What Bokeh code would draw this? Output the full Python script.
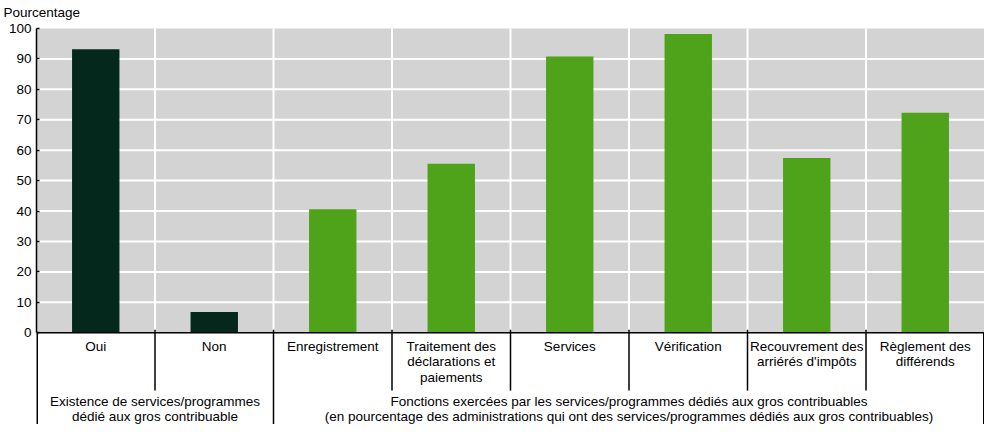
from bokeh.plotting import figure
from bokeh.models import Range1d, FixedTicker, ColumnDataSource
from bokeh.core.properties import value
from bokeh.embed import file_html
from bokeh.resources import INLINE

# ---- data ----
categories = ["Oui", "Non", "Enregistrement",
              "Traitement des\ndéclarations et\npaiements",
              "Services", "Vérification",
              "Recouvrement des\narriérés d'impôts",
              "Règlement des\ndifférends"]
values = [93.2, 6.8, 40.6, 55.5, 90.8, 98.2, 57.4, 72.3]
groups = ["Existence de services/programmes\ndédié aux gros contribuable",
          "Fonctions exercées par les services/programmes dédiés aux gros contribuables\n"
          "(en pourcentage des administrations qui ont des services/programmes dédiés aux gros contribuables)"]
group_sizes = [2, 6]
y_ticks = list(range(0, 101, 10))
y_title = "Pourcentage"

# ---- style ----
FONT = "Liberation Sans"
FS = "13.5px"
DARK = "#04291c"
LIGHT = "#4ea31a"
GRAY = "#d3d3d3"
group_colors = [DARK, LIGHT]

W, H = 984, 424
LEFT = 36
TOP = 20
n = len(categories)

# figure-pixel -> data conversion (0 at y 332, 100 at y 27)
PX_PER_UNIT = 3.05
ZERO_Y = 332
def py(fig_y):
    return (ZERO_Y - fig_y) / PX_PER_UNIT

y_top = py(TOP)
y_bot = py(H)

p = figure(width=W, height=H, output_backend="svg", toolbar_location=None,
           x_range=Range1d(0, n), y_range=Range1d(y_bot, y_top),
           x_axis_location=None, y_axis_location="left",
           min_border_left=LEFT, min_border_right=0,
           min_border_top=TOP, min_border_bottom=0)
p.outline_line_color = None
p.xgrid.visible = False
p.ygrid.visible = False
p.background_fill_color = "white"
p.border_fill_color = "white"

# y-axis title as a left-aligned plot title
p.title.text = y_title
p.title.align = "left"
p.title.offset = -(LEFT - 3)
p.title.standoff = 4
p.title.text_font = FONT
p.title.text_font_size = FS
p.title.text_font_style = "normal"
p.title.text_color = "black"

ax = p.yaxis[0]
ax.bounds = (0, 100)
ax.ticker = FixedTicker(ticks=y_ticks)
ax.axis_line_color = "black"
ax.axis_line_width = 1.5
ax.major_tick_in = 3
ax.major_tick_out = 0
ax.major_tick_line_color = "black"
ax.major_tick_line_width = 1.5
ax.minor_tick_line_color = None
ax.major_label_text_font = FONT
ax.major_label_text_font_size = FS
ax.major_label_text_color = "black"
ax.major_label_standoff = 5

# gray plot background
p.quad(left=[0], right=[n], bottom=[0], top=[100], fill_color=GRAY, line_color=None)
# white horizontal gridlines
hy = [t for t in y_ticks if 0 < t < 100]
p.segment(x0=[0] * len(hy), x1=[n] * len(hy), y0=hy, y1=hy, line_color="white", line_width=2)
# white vertical separators inside plot
vx = list(range(1, n))
p.segment(x0=vx, x1=vx, y0=[0] * len(vx), y1=[100] * len(vx), line_color="white", line_width=2)

# bars
colors = []
for g, size in enumerate(group_sizes):
    colors += [group_colors[g]] * size
src = ColumnDataSource(dict(x=[i + 0.5 for i in range(n)], top=values, color=colors))
p.vbar(x="x", top="top", width=0.4, bottom=0, fill_color="color", line_color=None, source=src)

# x axis line
p.segment(x0=[0], x1=[n], y0=[0], y1=[0], line_color="black", line_width=1.5)

# separators below axis
bounds = [0]
for s in group_sizes:
    bounds.append(bounds[-1] + s)
cut_short = py(390)
above = py(ZERO_Y - 3)
sx0, sy0, sy1, sw = [], [], [], []
for b in range(0, n + 1):
    sx0.append(b)
    if b in bounds:
        sy0.append(above if 0 < b < n else 0)
        sy1.append(y_bot)
        sw.append(3 if b in (0, n) else 1.5)
    else:
        sy0.append(above); sy1.append(cut_short); sw.append(1.5)
p.segment(x0=sx0, x1=sx0, y0=sy0, y1=sy1, line_color="black", line_width=sw)

# category labels (split per line)
LINE_STEP = 15.3
tx, ty, tt = [], [], []
for i, c in enumerate(categories):
    for k, line in enumerate(c.split("\n")):
        tx.append(i + 0.5); ty.append(py(346 + k * LINE_STEP)); tt.append(line)
p.text(x=tx, y=ty, text=tt, text_align="center", text_baseline="middle",
       text_font=value(FONT), text_font_size=FS, text_color="black")

# group labels
gx, gy, gt = [], [], []
for g, lab in enumerate(groups):
    cx = (bounds[g] + bounds[g + 1]) / 2
    for k, line in enumerate(lab.split("\n")):
        gx.append(cx); gy.append(py(401 + k * 14.8)); gt.append(line)
p.text(x=gx, y=gy, text=gt, text_align="center", text_baseline="middle",
       text_font=value(FONT), text_font_size=FS, text_color="black")

open("out.html", "w").write(file_html(p, INLINE))
